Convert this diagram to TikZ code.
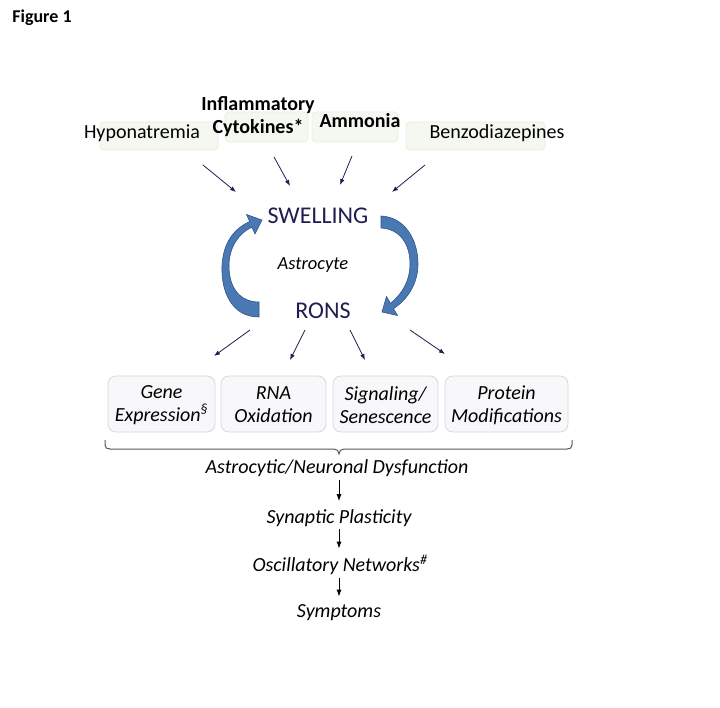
\documentclass[tikz,border=0pt]{standalone}
\usepackage{fontspec}
\setmainfont{Carlito}
\usetikzlibrary{arrows.meta}
\definecolor{navy}{RGB}{30,30,80}
\definecolor{arrowblue}{RGB}{74,120,178}
\definecolor{arrowedge}{RGB}{47,85,140}
\definecolor{topfill}{RGB}{245,248,240}
\definecolor{topedge}{RGB}{232,238,224}
\definecolor{botfill}{RGB}{248,248,250}
\definecolor{botedge}{RGB}{215,215,224}
\tikzset{
  topbox/.style={draw=topedge, fill=topfill, rounded corners=4pt, line width=0.8pt},
  botbox/.style={draw=botedge, fill=botfill, rounded corners=8pt, line width=0.8pt},
  lbl/.style={inner sep=0pt, font=\fontsize{20}{23}\selectfont, align=center},
  blbl/.style={lbl, font=\fontsize{20}{23}\selectfont\bfseries},
  ilbl/.style={lbl, font=\fontsize{20}{23}\selectfont\itshape},
  navyarrow/.style={-{Latex[length=6pt,width=4.5pt]}, draw=navy, line width=0.8pt},
  downarrow/.style={-{Latex[length=7pt,width=5pt]}, draw=black, line width=1pt},
  blockarrow/.style={fill=arrowblue, draw=arrowedge, line width=0.6pt, line join=round},
}
\begin{document}
\begin{tikzpicture}[x=1pt,y=-1pt]
\useasboundingbox (0,0) rectangle (720,708);
\fill[white] (0,0) rectangle (720,708);

% Title
\node[lbl, font=\fontsize{18}{20}\selectfont\bfseries] (title) at (42,18) {Figure 1};

% Top boxes
\draw[topbox] (100,122) rectangle (218,150);
\draw[topbox] (225,112) rectangle (308,142);
\draw[topbox] (312,112) rectangle (398,142);
\draw[topbox] (406,122) rectangle (545,150);
\node[lbl] (hypo) at (142,133) {Hyponatremia};
\node[blbl] (infl) at (258,117) {Inflammatory\\Cytokines*};
\node[blbl] (ammo) at (360,121) {Ammonia};
\node[lbl] (benzo) at (497,133) {Benzodiazepines};

% Centre
\node[lbl, font=\fontsize{24}{26}\selectfont, text=navy] (swell) at (318,216) {SWELLING};
\node[ilbl, font=\fontsize{18.5}{20}\selectfont\itshape] (astro) at (313,265) {Astrocyte};
\node[lbl, font=\fontsize{24}{26}\selectfont, text=navy] (rons) at (323,311) {RONS};

% Arrows into swelling
\coordinate (h1) at (203,165); \coordinate (h2) at (236,192);
\coordinate (i1) at (274,157); \coordinate (i2) at (290,186);
\coordinate (a1) at (352,156); \coordinate (a2) at (340,185);
\coordinate (b1) at (425,165); \coordinate (b2) at (392,192);
\draw[navyarrow] (h1) -- (h2);
\draw[navyarrow] (i1) -- (i2);
\draw[navyarrow] (a1) -- (a2);
\draw[navyarrow] (b1) -- (b2);

% Curved block arrows
\draw[blockarrow] (259,317) .. controls (232,317) and (221,292) .. (222,266)
  .. controls (223,242) and (235,228) .. (249.7,221.6)
  -- (246.5,214.5) -- (262,220) -- (255,234) -- (251.9,227.2)
  .. controls (239,233) and (229,247) .. (229,266)
  .. controls (229,288) and (240,302) .. (259,302) -- cycle;
\draw[blockarrow] (381,216) .. controls (405,217) and (418,240) .. (418,264)
  .. controls (418,284) and (407,300) .. (393.5,308.6)
  -- (397.5,315.5) -- (382,312) -- (386.5,296.5) -- (390.5,303.4)
  .. controls (403,293) and (410,280) .. (410,264)
  .. controls (410,244) and (400,229) .. (381,228) -- cycle;

% Arrows out of RONS
\coordinate (r1) at (250,330); \coordinate (r1e) at (214,356);
\coordinate (r2) at (305,330); \coordinate (r2e) at (290,360);
\coordinate (r3) at (350,330); \coordinate (r3e) at (365,360);
\coordinate (r4) at (410,330); \coordinate (r4e) at (445,354);
\draw[navyarrow] (r1) -- (r1e);
\draw[navyarrow] (r2) -- (r2e);
\draw[navyarrow] (r3) -- (r3e);
\draw[navyarrow] (r4) -- (r4e);

% Bottom boxes
\draw[botbox] (108,376) rectangle (215,432);
\draw[botbox] (221,376) rectangle (326,432);
\draw[botbox] (333,376) rectangle (438,432);
\draw[botbox] (445,376) rectangle (568,432);
\node[ilbl] (gene) at (161.5,405) {Gene\\Expression\textsuperscript{§}};
\node[ilbl] (rna) at (273.5,405) {RNA\\Oxidation};
\node[ilbl] (sig) at (385.5,405) {Signaling/\\Senescence};
\node[ilbl] (prot) at (506.5,405) {Protein\\Modifications};

% Brace
\draw[draw=black!65, line width=1pt]
  (105,440) -- (105,445) .. controls (105,448) and (107,449) .. (110,449)
  -- (334,449) .. controls (337,449) and (339,451) .. (339,454)
  .. controls (339,451) and (341,449) .. (344,449)
  -- (567,449) .. controls (570,449) and (572,448) .. (572,445) -- (572,440);

% Cascade
\node[ilbl] (dys) at (337,468) {Astrocytic/Neuronal Dysfunction};
\node[ilbl] (syn) at (339,518) {Synaptic Plasticity};
\node[ilbl] (osc) at (340,565) {Oscillatory Networks\textsuperscript{\#}};
\node[ilbl] (sym) at (339,613) {Symptoms};
\draw[downarrow] (syn.north |- dys.south) ++(0,3) -- ([yshift=8pt]syn.north);
\draw[downarrow] (syn.south) ++(0,2) -- ([yshift=6pt]syn.south |- osc.north);
\draw[downarrow] (sym.north |- osc.south) ++(0,3) -- ([yshift=8pt]sym.north);
\end{tikzpicture}
\end{document}
